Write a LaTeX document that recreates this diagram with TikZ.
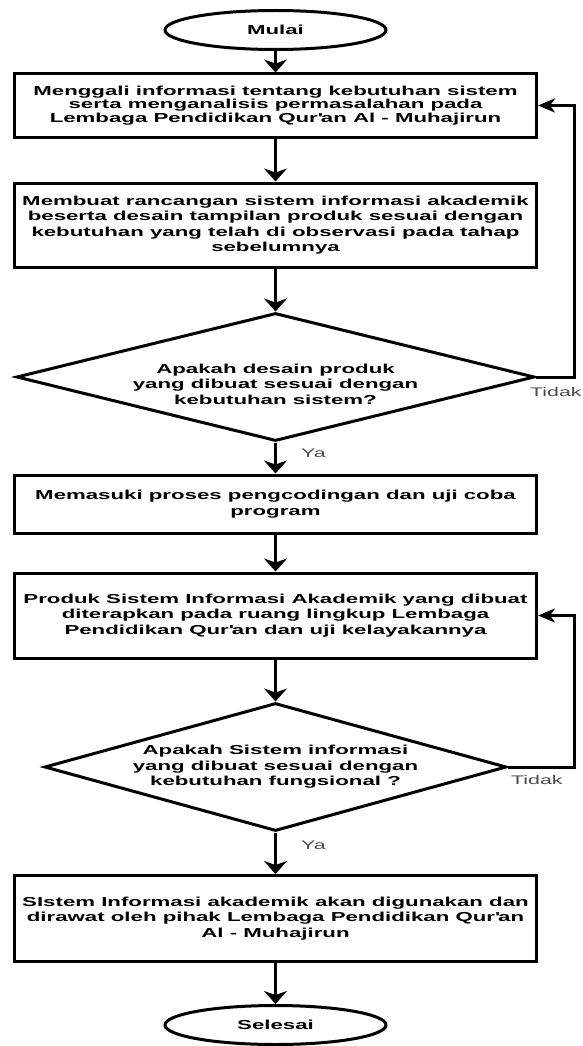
\documentclass[tikz,border=0pt]{standalone}
\usepackage{fontspec}
\setmainfont{Liberation Sans}[FakeStretch=1.71]
\usetikzlibrary{shapes.geometric,arrows.meta}

\begin{document}
\begin{tikzpicture}[x=1pt,y=-1pt]
  \tikzset{proses/.style={draw,line width=3pt,rectangle,minimum width=522pt,align=center,inner sep=0pt,font=\bfseries\fontsize{13}{15.5}\selectfont},
    terminal/.style={draw,line width=3pt,ellipse,minimum width=221pt,minimum height=39pt,font=\bfseries\fontsize{13}{15.5}\selectfont},
    keputusan/.style={draw,line width=3pt,diamond,align=center,inner xsep=-12pt,inner ysep=0pt,minimum height=128pt,font=\bfseries\fontsize{13}{15.5}\selectfont},
    panah/.style={line width=3pt,-{Stealth[length=13pt,width=23pt,inset=4pt]}},
    panahkiri/.style={line width=3pt,-{Stealth[length=17pt,width=14pt,inset=5pt]}},
    ket/.style={text=black!70,inner sep=0pt,font=\fontsize{12.5}{15}\selectfont}}
  \useasboundingbox (0,0) rectangle (583,1046);
  \node[terminal] (mulai) at (275.5,30) {Mulai};
  \node[proses,minimum height=63pt,font=\bfseries\fontsize{13}{13.5}\selectfont] (gali) at (275.5,105.5) {Menggali informasi tentang kebutuhan sistem\\ serta menganalisis permasalahan pada\\ Lembaga Pendidikan Qur\textquotesingle an Al - Muhajirun};
  \node[proses,minimum height=84pt] (rancang) at (275.5,225) {Membuat rancangan sistem informasi akademik\\ beserta desain tampilan produk sesuai dengan\\ kebutuhan yang telah di observasi pada tahap\\ sebelumnya};
  % teks turun sedikit seperti aslinya
  \node[keputusan,minimum width=518pt,aspect=4,inner xsep=-24pt] (cekdesain) at (275.5,377) {\rule{0pt}{23.5pt}Apakah desain produk\\ yang dibuat sesuai dengan\\ kebutuhan sistem?};
  \node[proses,minimum height=58pt] (coding) at (275.5,504) {Memasuki proses pengcodingan dan uji coba\\ program};
  \node[proses,minimum height=85pt] (terapkan) at (275.5,615.5) {Produk Sistem Informasi Akademik yang dibuat\\ diterapkan pada ruang lingkup Lembaga\\ Pendidikan Qur\textquotesingle an dan uji kelayakannya};
  \node[keputusan,minimum width=462pt,aspect=3.6] (cekfungsi) at (275.5,767) {Apakah Sistem informasi\\ yang dibuat sesuai dengan\\ kebutuhan fungsional ?};
  \node[proses,minimum height=86pt] (rawat) at (275.5,918.5) {SIstem Informasi akademik akan digunakan dan\\ dirawat oleh pihak Lembaga Pendidikan Qur\textquotesingle an\\ Al - Muhajirun};
  \node[terminal] (selesai) at (275.5,1025) {Selesai};

  \draw[panah] (mulai) -- (gali);
  \draw[panah] (gali) -- (rancang);
  \draw[panah] (rancang) -- (cekdesain);
  \draw[panah] (cekdesain) -- (coding);
  \draw[panah] (coding) -- (terapkan);
  \draw[panah] (terapkan) -- (cekfungsi);
  \draw[panah] (cekfungsi) -- (rawat);
  \draw[panah] (rawat) -- (selesai);

  \coordinate (balik1) at (574,377);
  \coordinate (balik2) at (574,767);
  \draw[panahkiri] (cekdesain.east) -- (balik1) |- (gali.east);
  \draw[panahkiri] (cekfungsi.east) -- (balik2) |- (terapkan.east);

  \node[ket,anchor=north west] (tidak1) at (530,387.5) {Tidak};
  \node[ket,anchor=north west] (tidak2) at (511,775.5) {Tidak};
  \node[ket,anchor=west] (ya1) at (301,453) {Ya};
  \node[ket,anchor=west] (ya2) at (301,845) {Ya};
\end{tikzpicture}
\end{document}
